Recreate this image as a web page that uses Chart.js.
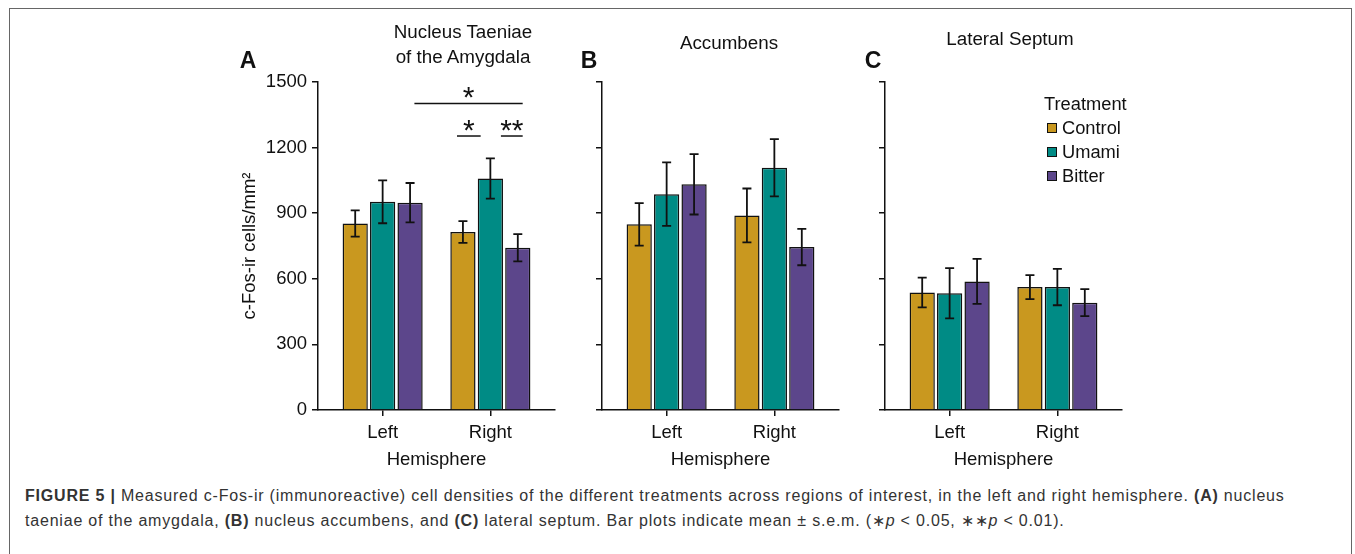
<!DOCTYPE html>
<html>
<head>
<meta charset="utf-8">
<script src="https://cdn.jsdelivr.net/npm/chart.js@4.4.0/dist/chart.umd.min.js"></script>
<style>
  body { margin: 0; background: #fff; font-family: "Liberation Sans", Arial, sans-serif; }
  #fig { position: relative; width: 1355px; height: 554px; overflow: hidden; background: #fff; }
  #frame { position: absolute; left: 9px; top: 8px; width: 1341px; height: 600px;
           border: 1.5px solid #666; border-bottom: none; }
  canvas.panel { position: absolute; top: 0; }
  .txt { position: absolute; color: #111; white-space: nowrap; transform: translate(-50%, -50%); }
  .ttl { font-size: 18.8px; text-align: center; line-height: 25px; }
  .let { font-size: 23px; font-weight: bold; }
  #legend { position: absolute; left: 1044px; top: 92px; font-size: 18.3px; color: #111; }
  #legend .head { height: 24px; line-height: 24px; }
  #legend .item { height: 24px; line-height: 24px; display: flex; align-items: center; }
  #legend .sw { width: 8px; height: 8px; border: 1.5px solid #111; margin: 0 5px 0 3px; }
  #caption { position: absolute; left: 25px; top: 483px; font-size: 16px; letter-spacing: 0.8px;
             line-height: 25px; color: #333; }
</style>
</head>
<body>
<div id="fig">
  <div id="frame"></div>
  <canvas class="panel" id="chartA" width="370" height="480" style="left:200px"></canvas>
  <canvas class="panel" id="chartB" width="370" height="480" style="left:484px"></canvas>
  <canvas class="panel" id="chartC" width="370" height="480" style="left:767px"></canvas>

  <div class="txt let" style="left:248px; top:60px">A</div>
  <div class="txt let" style="left:589px; top:60px">B</div>
  <div class="txt let" style="left:873px; top:60px">C</div>
  <div class="txt ttl" style="left:463px; top:44px">Nucleus Taeniae<br>of the Amygdala</div>
  <div class="txt ttl" style="left:729px; top:42px">Accumbens</div>
  <div class="txt ttl" style="left:1010px; top:38px">Lateral Septum</div>

  <div id="legend"></div>

  <div id="caption">
    <b>FIGURE 5 |</b> Measured c-Fos-ir (immunoreactive) cell densities of the different treatments across regions of interest, in the left and right hemisphere. <b>(A)</b> nucleus<br>
    taeniae of the amygdala, <b>(B)</b> nucleus accumbens, and <b>(C)</b> lateral septum. Bar plots indicate mean ± s.e.m. (∗<i>p</i> &lt; 0.05, ∗∗<i>p</i> &lt; 0.01).
  </div>
</div>

<script>
// hemisphere positions on the x axis
const hemispheres = ['Left', 'Right'];
const hemiX = [1, 2];

const treatments = ['Control', 'Umami', 'Bitter'];
const colors = ['#C9981F', '#008B85', '#5C468B'];

// means [Left, Right] and s.e.m. per treatment, per region
const ntaMean    = [[853, 814], [952, 1059], [948, 742]];
const ntaSem     = [[60, 50], [98, 92], [90, 62]];
const accMean    = [[849, 890], [987, 1108], [1032, 745]];
const accSem     = [[97, 123], [145, 131], [138, 83]];
const lsMean     = [[537, 562], [534, 562], [588, 491]];
const lsSem      = [[68, 55], [115, 83], [103, 62]];

const yTicks = [0, 300, 600, 900, 1200, 1500];

// significance brackets for panel A (x in hemisphere units, y in cells/mm2)
const sigFrom  = [1.295, 1.69, 2.098];
const sigTo    = [2.30, 1.91, 2.30];
const sigY     = [1402, 1253, 1253];
const sigLabel = ['*', '*', '**'];

const AX_FONT = { family: 'Liberation Sans', size: 18.5 };

// error bars, drawn on top of the bars
const errorBars = {
  id: 'errorBars',
  afterDatasetsDraw(chart) {
    const ctx = chart.ctx;
    const y = chart.scales.y;
    ctx.save();
    ctx.strokeStyle = '#111';
    ctx.lineWidth = 1.8;
    chart.data.datasets.forEach((ds, di) => {
      chart.getDatasetMeta(di).data.forEach((bar, i) => {
        const m = ds.data[i].y, e = ds.sem[i];
        const yTop = y.getPixelForValue(m + e), yBot = y.getPixelForValue(m - e);
        ctx.beginPath();
        ctx.moveTo(bar.x, yTop); ctx.lineTo(bar.x, yBot);
        ctx.moveTo(bar.x - 4.5, yTop); ctx.lineTo(bar.x + 4.5, yTop);
        ctx.moveTo(bar.x - 4.5, yBot); ctx.lineTo(bar.x + 4.5, yBot);
        ctx.stroke();
      });
    });
    ctx.restore();
  }
};

const sigMarks = {
  id: 'sigMarks',
  afterDatasetsDraw(chart, args, opts) {
    if (!opts.show) return;
    const ctx = chart.ctx, xs = chart.scales.x, ys = chart.scales.y;
    ctx.save();
    ctx.strokeStyle = '#111';
    ctx.fillStyle = '#111';
    ctx.lineWidth = 1.5;
    ctx.font = '30px "Liberation Sans"';
    ctx.textAlign = 'center';
    ctx.textBaseline = 'alphabetic';
    sigFrom.forEach((x1, i) => {
      const px1 = xs.getPixelForValue(x1), px2 = xs.getPixelForValue(sigTo[i]);
      const py = ys.getPixelForValue(sigY[i]);
      ctx.beginPath();
      ctx.moveTo(px1, py); ctx.lineTo(px2, py);
      ctx.stroke();
      ctx.fillText(sigLabel[i], (px1 + px2) / 2, py + 4);
    });
    ctx.restore();
  }
};

function makePanel(id, means, sems, showLabels, showSig) {
  const datasets = treatments.map((t, k) => ({
    label: t,
    data: hemiX.map((x, i) => ({ x: x, y: means[k][i] })),
    sem: sems[k],
    backgroundColor: colors[k],
    borderColor: '#111',
    borderWidth: 1.5,
    categoryPercentage: 0.764,
    barPercentage: 0.92
  }));

  new Chart(document.getElementById(id), {
    type: 'bar',
    data: { datasets: datasets },
    plugins: [errorBars, sigMarks],
    options: {
      responsive: false,
      animation: false,
      layout: { padding: { top: 82, right: 15, left: 0, bottom: 0 } },
      plugins: {
        legend: { display: false },
        tooltip: { enabled: false },
        sigMarks: { show: showSig }
      },
      scales: {
        x: {
          type: 'linear',
          min: 0.4,
          max: 2.6,
          offset: false,
          afterBuildTicks: s => { s.ticks = hemiX.map(v => ({ value: v })); },
          afterFit: s => { s.height = 70; },
          grid: { offset: false, drawOnChartArea: false, drawTicks: true, tickLength: 6, color: '#111', lineWidth: 1.5 },
          border: { display: true, color: '#111', width: 1.5 },
          ticks: {
            color: '#111',
            font: AX_FONT,
            padding: 6,
            maxRotation: 0,
            callback: v => hemispheres[hemiX.indexOf(v)]
          },
          title: {
            display: true,
            text: 'Hemisphere',
            color: '#111',
            font: AX_FONT,
            padding: { top: 0, bottom: 9 }
          }
        },
        y: {
          min: 0,
          max: 1500,
          afterBuildTicks: s => { s.ticks = yTicks.map(v => ({ value: v })); },
          afterFit: s => { s.width = 118; },
          grid: { drawOnChartArea: false, drawTicks: true, tickLength: 6, color: '#111', lineWidth: 1.5 },
          border: { display: true, color: '#111', width: 1.5 },
          ticks: {
            display: showLabels,
            color: '#111',
            font: AX_FONT,
            padding: 5,
            callback: v => String(v)
          },
          title: {
            display: showLabels,
            text: 'c-Fos-ir cells/mm²',
            color: '#111',
            font: AX_FONT,
            padding: { top: 39, bottom: 0 }
          }
        }
      }
    }
  });
}

makePanel('chartA', ntaMean, ntaSem, true, true);
makePanel('chartB', accMean, accSem, false, false);
makePanel('chartC', lsMean, lsSem, false, false);

// legend for panel C
const lg = document.getElementById('legend');
lg.innerHTML = '<div class="head">Treatment</div>' +
  treatments.map((t, k) => `<div class="item"><span class="sw" style="background:${colors[k]}"></span>${t}</div>`).join('');
</script>
</body>
</html>
